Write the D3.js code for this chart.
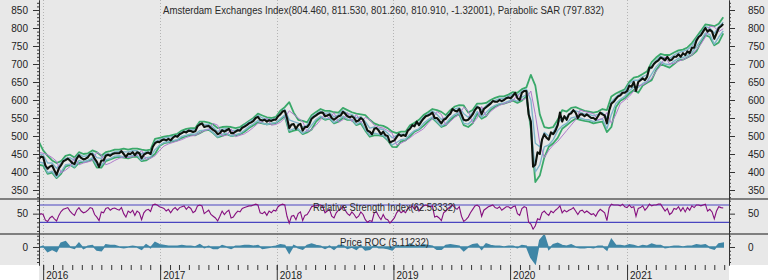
<!DOCTYPE html>
<html><head><meta charset="utf-8">
<script src="https://cdn.jsdelivr.net/npm/d3@7"></script>
<style>body{margin:0;background:#fff}svg{display:block}text{font-family:"Liberation Sans",Arial,sans-serif}</style>
</head><body><svg id="c" width="768" height="280"></svg>
<script>
// ---------- DATA ----------
const seriesStart = "2015-12-18";           // weekly (Fridays) for closes & RSI, bi-weekly for bands & ROC
const yearLabels = ["2016","2017","2018","2019","2020","2021"];
const priceTicks = [350,400,450,500,550,600,650,700,750,800,850];
const rsiTicks = [50];
const rocTicks = [0];
const titleText = "Amsterdam Exchanges Index(804.460, 811.530, 801.260, 810.910, -1.32001), Parabolic SAR (797.832)";
const rsiText = "Relative Strength Index(62.53332)";
const rocText = "Price ROC (5.11232)";

const closes = [435,443,
441,418,409,415,418, 405,392,410,419, 430,433,437,432, 425,422,437,446,439, 435,437,441,450, 449,437,428,414, 432,432,445,448,445, 450,452,452,452, 458,450,442,451,450, 455,447,455,452, 438,448,452,454, 450,470,480,484,483,
488,490,488,492, 488,495,500,498, 505,508,512,510,515, 514,511,513,527, 532,535,525,527, 528,522,517,513,505, 508,516,512,516, 520,508,508,512, 516,515,523,526,530, 535,538,542,550, 553,545,543,545, 540,544,542,545,545,
555,560,568,570, 550,522,532,533, 520,530,534,515,525, 525,533,548,553, 557,562,565,565, 555,557,560,550,545, 550,555,557,567, 562,555,552,555,550, 540,543,550,545, 530,515,512,505, 520,522,515,505,512, 502,500,482,485,
488,497,505,500, 503,500,515,520, 530,527,540,530,540, 548,555,557,560, 565,550,550,543,535, 545,548,556,562, 575,570,568,575, 560,545,543,545,552, 560,572,580,578, 560,575,580,585, 590,597,595,595,600, 597,600,605,607,
605,612,620,605,600, 620,625,625,560, 540,415,420,455, 450,490,505,495, 490,510,505,515,530, 565,540,555,545, 560,563,572,565,550, 560,560,555,560, 555,550,550,545, 555,565,560,557,535, 570,590,595,603, 610,613,620,620,
625,640,637,650,625, 650,655,660,655, 665,690,690,700, 706,710,718,715,710, 720,710,712,720, 720,727,720,730, 725,735,730,745,745, 765,775,780,790, 800,790,795,790, 770,785,800,805,811];

const bbUpper = [485,460,445,432,425,430,445,448,440,455, 450,452,460,455,445,455,458,462,462,465, 462,465,465,462,460,462,492,495,498,500, 503,506,515,520,522,522,540,540,537,532, 522,525,526,525,522,525,533,542,550,562, 557,552,550,553,570,580,594,565,545,542, 538,558,567,575,570,570,566,565,578,572, 566,562,560,558,545,535,530,528,522,512, 508,512,512,530,537,545,558,566,575,572, 567,558,572,582,586,585,565,572,590,590, 592,600,606,610,610,615,622,620,630,635, 670,640,560,525,522,525,545,572,568,578, 580,575,570,568,565,568,575,572,610,618, 624,630,650,662,665,672,680,705,718,728, 725,725,732,738,740,746,758,775,792,810, 808,805,812,830];
const bbLower = [420,418,395,398,383,395,415,420,412,425, 428,430,435,412,412,430,435,440,442,440, 438,442,443,430,432,440,450,472,480,482, 485,488,495,500,503,502,508,515,517,508, 496,500,505,500,502,505,512,522,530,538, 535,532,534,536,545,555,511,515,518,505, 510,518,540,552,545,548,535,540,550,545, 545,530,535,515,498,502,502,500,488,470, 469,485,488,500,512,518,528,540,550,538, 525,530,545,555,560,530,525,535,562,548, 555,572,582,588,590,594,598,592,598,610, 520,372,390,440,470,480,495,520,530,540, 548,545,542,540,535,538,540,511,525,580, 598,605,618,628,620,640,648,655,683,700, 695,690,700,710,712,718,725,735,760,780, 775,752,760,785];
const envUpper = [450,448,425,425,410,425,438,440,432,450, 443,446,454,440,438,450,450,456,457,456, 456,459,459,450,456,455,484,489,494,497, 499,502,511,514,518,517,535,532,532,524, 512,519,520,515,516,519,529,539,546,557, 550,546,546,549,563,574,545,540,536,525, 530,552,561,569,563,565,553,559,571,562, 560,550,554,540,522,525,520,518,508,495, 502,505,505,524,531,536,552,561,569,560, 546,552,566,575,579,562,552,565,584,572, 584,594,599,604,604,611,616,612,624,630, 600,480,470,510,500,510,535,550,552,568, 570,566,561,560,556,560,565,550,595,608, 618,625,645,655,655,665,670,695,710,722, 716,715,725,732,735,740,750,770,785,804, 800,785,804,816];
const envLower = [428,425,398,402,385,400,420,422,414,432, 428,432,440,418,418,434,437,444,445,442, 443,446,447,432,440,442,462,474,482,484, 487,490,499,502,506,505,515,516,519,509, 497,505,508,500,504,507,516,526,534,543, 536,532,535,537,548,558,515,520,520,507, 515,530,546,555,547,550,537,545,555,547, 546,532,540,518,502,508,505,502,490,475, 482,490,492,505,515,520,535,545,553,540, 527,535,550,560,565,535,533,545,568,552, 565,578,585,590,592,597,602,596,608,614, 530,400,420,470,475,490,515,528,535,550, 553,550,546,545,540,544,548,520,560,590, 602,610,626,636,635,646,652,672,692,706, 700,698,708,716,718,724,732,748,766,786, 782,755,775,792];
const sar = [455,452,448,440,430,398,405,415,440,420, 425,428,432,455,448,420,425,432,438,442, 440,443,446,460,435,438,445,460,472,478, 482,486,490,496,500,502,508,515,518,535, 530,500,502,520,498,502,506,514,524,535, 540,550,530,532,538,550,570,560,550,540, 512,518,530,545,562,548,565,538,545,565, 540,560,537,552,545,530,525,522,515,508, 475,480,487,495,505,512,520,535,548,568, 560,530,540,552,560,580,570,535,550,582, 555,568,578,585,590,594,598,615,600,605, 625,560,480,440,460,475,485,500,515,530, 545,572,568,565,562,545,548,565,535,560, 590,600,610,625,640,642,650,660,680,695, 720,700,702,708,712,718,725,740,755,775, 805,803,790,798];

const rsi = [45,50,
48,35,32,40,44, 38,33,46,55, 60,62,64,56, 50,46,58,64,56, 52,54,58,64, 62,48,42,34, 54,52,62,64,58, 62,63,60,58, 64,50,42,56,52, 58,46,56,52, 36,52,58,60, 55,70,72,70,66,
64,62,56,60, 52,60,64,58, 64,66,68,60,66, 62,52,56,68, 70,68,50,54, 58,48,44,40,33, 44,56,48,54, 58,40,42,50, 56,54,62,64,66, 68,68,70,72, 70,52,50,54, 46,56,52,58,56,
66,70,72,70, 44,28,44,46, 36,50,54,34,46, 48,56,66,68, 68,70,70,66, 52,56,60,44,40, 52,58,60,68, 58,50,46,54,48, 40,44,54,48, 36,30,34,32, 52,54,44,36,48, 38,36,28,34,
40,52,58,52, 56,52,62,64, 68,60,68,56,64, 68,70,68,66, 68,42,44,40,34, 52,56,62,66, 70,64,60,66, 44,32,36,42,52, 60,68,70,66, 44,58,62,66, 68,70,64,62,66, 58,62,66,66,
62,66,68,50,46, 62,66,64,30, 26,14,22,38, 36,52,56,50, 46,56,52,58,62, 68,52,58,54, 58,60,64,56,48, 56,58,52,56, 52,48,50,44, 54,60,56,52,34, 64,72,70,70, 70,68,72,66,
64,70,64,66,44, 62,64,68,58, 64,72,68,70, 70,72,72,64,56, 62,48,52,62, 60,66,56,64, 54,64,58,68,64, 70,70,68,70, 72,56,60,54, 38,56,66,64,63];

const roc = [-1,1,-6,-3,-6,5,7,0,-2,5, -2,1,2,-4,-5,3,2,2,0,-1, 0,1,0,-3,3,-1,6,3,2,1, 1,1,2,1,1,0,3,-1,1,-2, -2,2,0,-2,1,1,2,2,1,2, -2,-1,0,1,3,2,-8,2,-1,-3, 2,4,2,1,-2,1,-3,2,2,-2, 0,-3,2,-4,-3,2,-1,-1,-2,-4, 2,1,0,4,1,1,3,2,1,-3, -3,2,3,2,1,-5,0,3,4,-3, 4,2,1,1,0,1,1,-1,2,1, -14,-22,9,16,-3,3,5,2,1,3, 0,-1,-1,0,-1,1,1,-4,10,2, 2,1,3,2,0,2,1,4,2,2, -1,0,1,1,0,1,1,3,2,3, -1,-3,4,5];

// ---------- CHART ----------
const W = 768, H = 280, L = 39, R = 729;
const BG = "#e8e8e8";
const parse = d3.utcParse("%Y-%m-%d");
const t0 = parse(seriesStart);
const weekly = arr => arr.map((v, i) => ({d: d3.utcDay.offset(t0, 7 * i), v}));
const biweekly = arr => arr.map((v, i) => ({d: d3.utcDay.offset(t0, 14 * i), v}));

const x = d3.scaleUtc().domain([parse("2015-12-19"), parse("2021-11-16")]).range([L, R]);
const yP = d3.scaleLinear().domain([325, 877.8]).range([199, 0]);
const yR = d3.scaleLinear().domain([2.9, 83.9]).range([234, 199]);
const yC = d3.scaleLinear().domain([-24, 17.3]).range([265, 234]);

const svg = d3.select("#c");
svg.append("rect").attr("width", W).attr("height", H).attr("fill", "#fff");
svg.append("rect").attr("x", 0).attr("y", 0).attr("width", W).attr("height", 265).attr("fill", BG);
svg.append("rect").attr("x", L).attr("y", 265).attr("width", R - L).attr("height", 15).attr("fill", BG);

const defs = svg.append("defs");
function clip(id, y0, y1) {
  defs.append("clipPath").attr("id", id).append("rect")
    .attr("x", L + 1).attr("y", y0).attr("width", R - L - 1).attr("height", y1 - y0);
  return `url(#${id})`;
}
const cMain = clip("cm", 0, 198), cRsi = clip("cr", 200, 233), cRoc = clip("cc", 235, 265);

// year grid
const yearDates = yearLabels.map(s => parse(s + "-01-01"));
svg.append("g").selectAll("line").data(yearDates).join("line")
  .attr("x1", d => Math.round(x(d)) + 0.5).attr("x2", d => Math.round(x(d)) + 0.5)
  .attr("y1", 0).attr("y2", 265)
  .attr("stroke", "#b4b4b4").attr("stroke-dasharray", "1,2");

// main panel lines
const gm = svg.append("g").attr("clip-path", cMain);
const lineP = d3.line().x(d => x(d.d)).y(d => yP(d.v));
const drawP = (data, color, w) => gm.append("path").datum(data).attr("d", lineP)
  .attr("fill", "none").attr("stroke", color).attr("stroke-width", w).attr("stroke-linejoin", "round");
drawP(biweekly(bbUpper), "#3aa96a", 1.8);
drawP(biweekly(bbLower), "#3aa96a", 1.8);
drawP(biweekly(envUpper), "#7db4c9", 1.4);
drawP(biweekly(envLower), "#7db4c9", 1.4);
drawP(biweekly(sar), "#b07ccc", 1);
drawP(weekly(closes), "#0d130d", 2.1);

// panel separators
svg.append("g").selectAll("line").data([199, 234]).join("line")
  .attr("x1", 0).attr("x2", W).attr("y1", d => d).attr("y2", d => d)
  .attr("stroke", "#5c5c5c").attr("stroke-width", 1.6);

// RSI
svg.append("g").selectAll("line").data([70, 30]).join("line")
  .attr("x1", L).attr("x2", R).attr("y1", d => yR(d)).attr("y2", d => yR(d))
  .attr("stroke", "#4a45c0").attr("stroke-width", 1.2);
svg.append("g").attr("clip-path", cRsi).append("path").datum(weekly(rsi))
  .attr("d", d3.line().x(d => x(d.d)).y(d => yR(d.v)))
  .attr("fill", "none").attr("stroke", "#86107f").attr("stroke-width", 1.1);

// ROC
svg.append("g").attr("clip-path", cRoc).append("path").datum(biweekly(roc))
  .attr("d", d3.area().x(d => x(d.d)).y0(yC(0)).y1(d => yC(d.v)))
  .attr("fill", "#3f86a6").attr("stroke", "#3f86a6").attr("stroke-width", 1.5);

// labels
const lbl = (t, x0, y0, len) => svg.append("text").text(t).attr("x", x0).attr("y", y0)
  .attr("font-size", 10).attr("fill", "#2a2a2a").attr("textLength", len).attr("lengthAdjust", "spacingAndGlyphs");
lbl(titleText, 163, 14, 441);
lbl(rsiText, 313, 211, 143);
lbl(rocText, 340, 246, 89);

// axes
function styleAxis(g) {
  g.select(".domain").attr("stroke", "#333");
  g.selectAll(".tick line").attr("stroke", "#333");
  g.selectAll("text").attr("fill", "#222").attr("font-size", 10).attr("font-family", '"Liberation Sans",Arial,sans-serif');
}
function sideAxes(scale, minor, major) {
  const a1 = svg.append("g").attr("transform", `translate(${L},0)`)
    .call(d3.axisLeft(scale).tickValues(minor).tickSize(2).tickSizeOuter(0).tickFormat(""));
  styleAxis(a1);
  const a2 = svg.append("g").attr("transform", `translate(${L},0)`)
    .call(d3.axisLeft(scale).tickValues(major).tickSize(6).tickSizeOuter(0).tickPadding(5));
  styleAxis(a2);
  const b1 = svg.append("g").attr("transform", `translate(${R},0)`)
    .call(d3.axisRight(scale).tickValues(minor).tickSize(2).tickSizeOuter(0).tickFormat(""));
  styleAxis(b1);
  const b2 = svg.append("g").attr("transform", `translate(${R},0)`)
    .call(d3.axisRight(scale).tickValues(major).tickSize(6).tickSizeOuter(0).tickPadding(13));
  styleAxis(b2);
}
sideAxes(yP, d3.range(330, 878, 10), priceTicks);
sideAxes(yR, [10, 20, 30, 40, 60, 70, 80], rsiTicks);
sideAxes(yC, [-20, -15, -10, -5, 5, 10, 15], rocTicks);

// x axis
const xm = svg.append("g").attr("transform", "translate(0,265)")
  .call(d3.axisBottom(x).ticks(d3.utcMonth.every(1)).tickSize(5).tickFormat(""));
xm.select(".domain").remove();
xm.selectAll(".tick line").attr("stroke", "#333");
const xy = svg.append("g").attr("transform", "translate(0,265)")
  .call(d3.axisBottom(x).tickValues(yearDates).tickSize(15).tickFormat(""));
xy.select(".domain").remove();
xy.selectAll(".tick line").attr("stroke", "#333");
svg.append("g").selectAll("text").data(yearDates).join("text")
  .attr("x", (d) => x(d) + 3).attr("y", 279)
  .text((d, i) => yearLabels[i])
  .attr("font-size", 10).attr("fill", "#222");
</script>
</body></html>
